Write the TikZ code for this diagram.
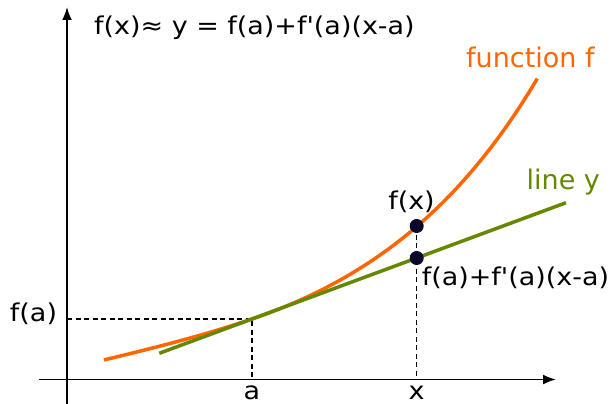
\documentclass[tikz,border=0pt]{standalone}
\usepackage{fontspec}
\setmainfont{DejaVu Sans}
\usetikzlibrary{arrows.meta}
\definecolor{forange}{RGB}{255,102,0}
\definecolor{lgreen}{RGB}{102,136,0}
\definecolor{dotc}{RGB}{8,8,40}
\newcommand{\wt}[1]{\scalebox{1.1}[1]{#1}}
\newcommand{\q}{\textquotesingle}
\begin{document}
\begin{tikzpicture}[x=1pt,y=-1pt,
  axis/.style={line width=1.8pt,-{Latex[length=13pt,width=10pt]}},
  guide/.style={line width=1.2pt,dash pattern=on 5pt off 3.5pt},
  curvef/.style={forange,line width=3.5pt},
  liney/.style={lgreen,line width=3.5pt},
  dotnode/.style={circle,fill=dotc,inner sep=0pt,minimum size=14pt},
  blab/.style={font=\fontsize{24.5}{28}\selectfont,inner sep=0pt,anchor=base},
  clab/.style={font=\fontsize{27}{30}\selectfont,inner sep=0pt,anchor=base west}]
\useasboundingbox (0,0) rectangle (616,404);
% axes
\coordinate (xs) at (39,379.5);
\coordinate (xe) at (556,379.5);
\coordinate (ys) at (67,406);
\coordinate (ye) at (67,7);
\draw[axis] (xs) -- (xe);
\draw[axis] (ys) -- (ye);
% key points
\coordinate (A) at (252,319);
\coordinate (Ax) at (252,379.5);
\coordinate (Ay) at (67,319);
\coordinate (Xx) at (416.7,379.5);
\coordinate (fxp) at (416.7,226);
\coordinate (lyp) at (416.7,258);
% guides
\draw[guide] (Ay) -- (A) -- (Ax);
\draw[guide] (fxp) -- (Xx);
% function f
\draw[curvef] plot[domain=104:537.3,samples=90,smooth] (\x,{380-61*exp(0.0056*(\x-252))+(\x<252)*3*((252-\x)/100)^2});
% line y
\coordinate (ls) at (159.3,353.3);
\coordinate (le) at (566,202.7);
\draw[liney] (ls) -- (le);
% dots
\node[dotnode] (fx) at (fxp) {};
\node[dotnode] (ly) at (lyp) {};
% labels
\node[font=\fontsize{24.5}{28}\selectfont,inner sep=0pt,anchor=base west] (formula) at (94,35) {\wt{f(x)≈ y = f(a)+f\q(a)(x-a)}};
\node[clab,text=forange] (funcf) at (466,68) {function f};
\node[clab,text=lgreen] (liney) at (526.5,189.3) {line y};
\node[blab] (fxl) at (411.5,209) {\wt{f(x)}};
\node[blab] (lyl) at (515.5,285) {\wt{f(a)+f\q(a)(x-a)}};
\node[blab] (fal) at (33.5,321.8) {\wt{f(a)}};
\node[blab] (al) at (252,399.5) {\wt{a}};
\node[blab] (xl) at (416.7,399.5) {\wt{x}};
\end{tikzpicture}
\end{document}
